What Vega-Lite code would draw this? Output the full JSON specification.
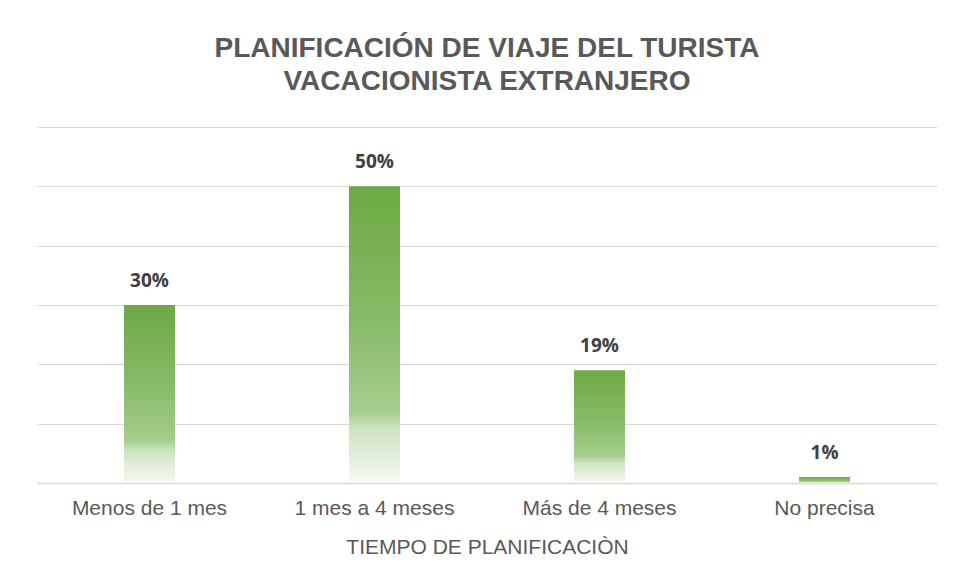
{
  "$schema": "https://vega.github.io/schema/vega-lite/v6.json",
  "width": 900,
  "height": 356,
  "autosize": {"type": "none"},
  "padding": {"left": 37, "top": 127, "right": 18, "bottom": 97},
  "background": "white",
  "title": {
    "text": ["PLANIFICACIÓN DE VIAJE DEL TURISTA", "VACACIONISTA EXTRANJERO"],
    "font": "Liberation Sans",
    "fontSize": 28,
    "fontWeight": "bold",
    "color": "#595959",
    "lineHeight": 33,
    "anchor": "middle",
    "offset": 31
  },
  "data": {
    "values": [
      {"cat": "Menos de 1 mes", "pct": 30, "label": "30%"},
      {"cat": "1 mes a 4 meses", "pct": 50, "label": "50%"},
      {"cat": "Más de 4 meses", "pct": 19, "label": "19%"},
      {"cat": "No precisa", "pct": 1, "label": "1%"}
    ]
  },
  "encoding": {
    "x": {
      "field": "cat",
      "type": "nominal",
      "sort": null,
      "title": "TIEMPO DE PLANIFICACIÒN",
      "scale": {"paddingInner": 0, "paddingOuter": 0},
      "axis": {
        "labelAngle": 0,
        "labelFont": "Liberation Sans",
        "labelFontSize": 21,
        "labelColor": "#595959",
        "labelPadding": 14,
        "ticks": false,
        "domainColor": "#D9D9D9",
        "domainWidth": 1.5,
        "titleFont": "Liberation Sans",
        "titleFontSize": 21,
        "titleFontWeight": "normal",
        "titleColor": "#595959",
        "titlePadding": 18
      }
    },
    "y": {
      "field": "pct",
      "type": "quantitative",
      "scale": {"domain": [0, 60]},
      "axis": {
        "values": [0, 10, 20, 30, 40, 50, 60],
        "labels": false,
        "ticks": false,
        "domain": false,
        "title": null,
        "grid": true,
        "gridColor": "#D9D9D9",
        "gridWidth": 1.2
      }
    }
  },
  "layer": [
    {
      "mark": {
        "type": "bar",
        "size": 51,
        "color": {
          "gradient": "linear",
          "x1": 0, "y1": 0, "x2": 0, "y2": 1,
          "stops": [
            {"offset": 0, "color": "#6DAA45"},
            {"offset": 0.45, "color": "#86BB68"},
            {"offset": 0.76, "color": "#A6CD8D"},
            {"offset": 0.82, "color": "#CFE4C1"},
            {"offset": 1, "color": "#F7FAF4"}
          ]
        }
      }
    },
    {
      "mark": {
        "type": "text",
        "dy": -24,
        "font": "Open Sans",
        "fontSize": 19,
        "fontWeight": "bold",
        "color": "#404040"
      },
      "encoding": {"text": {"field": "label"}}
    }
  ],
  "config": {"view": {"stroke": null}}
}
